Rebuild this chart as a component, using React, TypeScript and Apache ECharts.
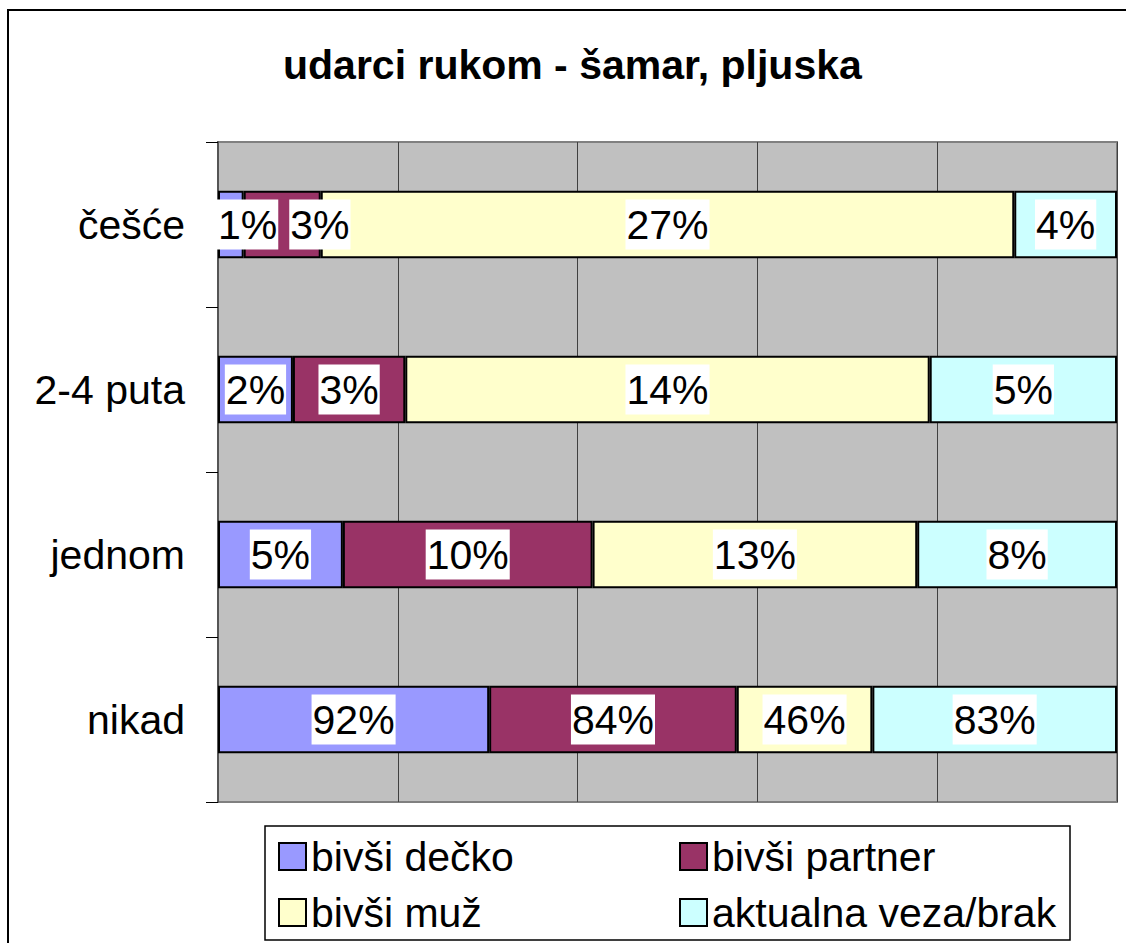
import React, { useEffect, useRef } from "react";
import * as echarts from "echarts";

const titleText = "udarci rukom - šamar, pljuska";
const categories = ["češće", "2-4 puta", "jednom", "nikad"];
const seriesNames = ["bivši dečko", "bivši partner", "bivši muž", "aktualna veza/brak"];
const bivsiDecko = [1, 2, 5, 92];
const bivsiPartner = [3, 3, 10, 84];
const bivsiMuz = [27, 14, 13, 46];
const aktualnaVeza = [4, 5, 8, 83];
const seriesColors = ["#9999FF", "#993366", "#FFFFCC", "#CCFFFF"];

const GRID_LEFT = 218;
const FONT = "'Liberation Sans', Arial, sans-serif";

export default function App() {
  const ref = useRef<HTMLDivElement>(null);

  useEffect(() => {
    if (!ref.current) return;
    const chart = echarts.init(ref.current, undefined, { renderer: "svg" });
    const raw = [bivsiDecko, bivsiPartner, bivsiMuz, aktualnaVeza];
    const totals = categories.map((_, i) => raw.reduce((s, arr) => s + arr[i], 0));
    const lastRight: Record<number, number> = {};

    const series = raw.map((arr, si) => ({
      name: seriesNames[si],
      type: "bar",
      stack: "total",
      barCategoryGap: "59%",
      data: arr.map((v, i) => (v / totals[i]) * 100),
      itemStyle: { color: seriesColors[si], borderColor: "#000", borderWidth: 2 },
      label: {
        show: true,
        position: "inside",
        formatter: (p: any) => raw[p.seriesIndex][p.dataIndex] + "%",
        color: "#000",
        fontSize: 41,
        fontFamily: FONT,
        lineHeight: 46,
        backgroundColor: "#fff",
        padding: [2, 1, 2, 1],
        textBorderWidth: 0,
      },
      labelLayout: (p: any) => {
        const r = p.labelRect;
        if (p.seriesIndex === 0) lastRight[p.dataIndex] = -Infinity;
        const prev = lastRight[p.dataIndex] ?? -Infinity;
        let x = r.x;
        const minX = Math.max(GRID_LEFT - 1, prev + 11);
        if (x < minX) x = minX;
        lastRight[p.dataIndex] = x + r.width;
        return { dx: x - r.x };
      },
    }));

    chart.setOption({
      animation: false,
      textStyle: { fontFamily: FONT },
      title: {
        text: titleText,
        left: 283,
        top: 44,
        padding: 0,
        textStyle: { fontSize: 41, fontWeight: "bold", color: "#000", fontFamily: FONT },
      },
      grid: {
        left: GRID_LEFT,
        right: 9,
        top: 142,
        bottom: 141,
        show: true,
        backgroundColor: "#C0C0C0",
        borderColor: "#808080",
        borderWidth: 2,
      },
      xAxis: {
        type: "value",
        min: 0,
        max: 100,
        interval: 20,
        axisLabel: { show: false },
        axisTick: { show: false },
        axisLine: { show: false },
        splitLine: { show: true, lineStyle: { color: "#404040", width: 1 } },
      },
      yAxis: {
        type: "category",
        inverse: true,
        data: categories,
        axisLine: { show: true, lineStyle: { color: "#555", width: 2 } },
        axisTick: { show: true, length: 12, alignWithLabel: false, lineStyle: { color: "#000", width: 1 } },
        axisLabel: { fontSize: 41, color: "#000", margin: 33, fontFamily: FONT },
      },
      legend: [
        {
          data: [seriesNames[0], seriesNames[2]],
          orient: "vertical",
          left: 278,
          top: 833,
          padding: 0,
          itemWidth: 27,
          itemHeight: 27,
          itemGap: 9,
          icon: "rect",
          textStyle: { fontSize: 41, lineHeight: 47, color: "#000", fontFamily: FONT },
        },
        {
          data: [seriesNames[1], seriesNames[3]],
          orient: "vertical",
          left: 679,
          top: 833,
          padding: 0,
          itemWidth: 27,
          itemHeight: 27,
          itemGap: 9,
          icon: "rect",
          textStyle: { fontSize: 41, lineHeight: 47, color: "#000", fontFamily: FONT },
        },
      ],
      graphic: [
        {
          type: "rect",
          shape: { x: 8, y: 10, width: 1200, height: 1000 },
          style: { fill: "none", stroke: "#000", lineWidth: 2 },
          silent: true,
        },
        {
          type: "rect",
          shape: { x: 265, y: 826, width: 805, height: 114 },
          style: { fill: "none", stroke: "#000", lineWidth: 1.5 },
          silent: true,
        },
      ],
      series,
    });

    return () => chart.dispose();
  }, []);

  return (
    <div
      ref={ref}
      style={{ position: "absolute", left: 0, top: 0, width: 1126, height: 943 }}
    />
  );
}
